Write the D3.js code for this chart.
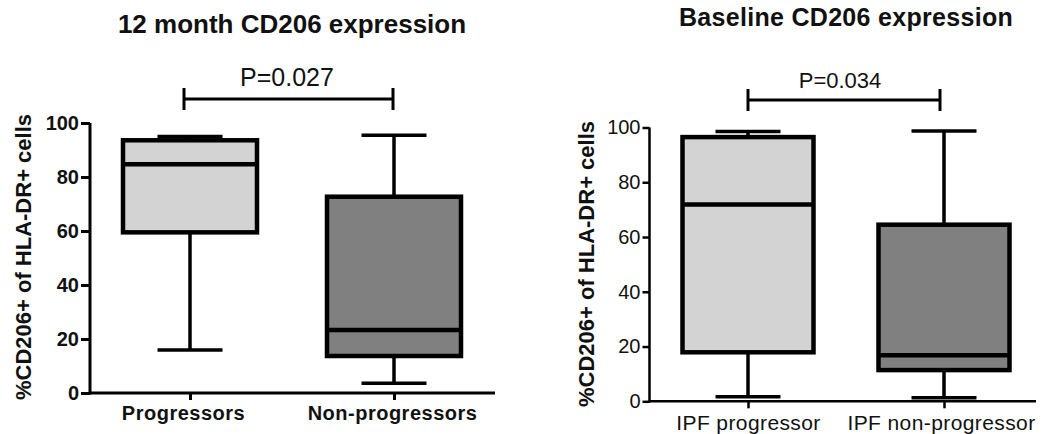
<!DOCTYPE html>
<html>
<head>
<meta charset="utf-8">
<script src="https://cdn.jsdelivr.net/npm/d3@7"></script>
<style>
  html, body { margin: 0; padding: 0; background: #fff; }
  svg { display: block; font-family: Arial, "Liberation Sans", sans-serif; }
</style>
</head>
<body>
<svg id="chart" width="1046" height="434"></svg>
<script>
// Box-plot summaries: [min, Q1, median, Q3, max] in % CD206+ of HLA-DR+ cells
const monthCategories = ["Progressors", "Non-progressors"];
const monthStats = [
  [15.9, 59.5, 84.7, 93.6, 95.0],
  [3.6, 13.7, 23.3, 72.7, 95.5]
];
const monthPValue = "P=0.027";
const monthTitle = "12 month CD206 expression";

const baseCategories = ["IPF progressor", "IPF non-progressor"];
const baseStats = [
  [1.7, 17.9, 71.9, 96.5, 98.5],
  [1.3, 11.4, 16.8, 64.5, 98.7]
];
const basePValue = "P=0.034";
const baseTitle = "Baseline CD206 expression";

const yTicks = [0, 20, 40, 60, 80, 100];
const yLabel = "%CD206+ of HLA-DR+ cells";
const boxFills = ["#d3d3d3", "#808080"];

const svg = d3.select("#chart");

function drawPanel(cfg) {
  const g = svg.append("g");
  const y = d3.scaleLinear().domain([0, 100]).range([cfg.y0, cfg.y100]);
  const x = d3.scalePoint().domain(cfg.categories).range(cfg.xCenters);

  // title
  g.append("text")
    .attr("x", cfg.titleX).attr("y", cfg.titleY)
    .attr("text-anchor", "middle")
    .attr("font-size", cfg.titleSize).attr("font-weight", "bold")
    .attr("letter-spacing", cfg.titleSpacing)
    .attr("fill", "#111")
    .text(cfg.title);

  // y axis
  const yAxis = g.append("g")
    .attr("transform", `translate(${cfg.axisX},0)`)
    .call(d3.axisLeft(y).tickValues(yTicks).tickSize(cfg.yTickSize)
      .tickSizeOuter(0).tickPadding(cfg.yTickPad));
  yAxis.selectAll("path, line").attr("stroke", "#000").attr("stroke-width", cfg.axisWidth);
  yAxis.select(".domain").attr("d", `M0,${cfg.y0 + cfg.axisWidth / 2}V${cfg.y100}`);
  yAxis.selectAll("text")
    .attr("font-size", cfg.yTickFont).attr("font-weight", cfg.tickWeight)
    .attr("font-family", "Arial, 'Liberation Sans', sans-serif")
    .attr("fill", "#111");

  // x axis
  const xAxis = g.append("g")
    .attr("transform", `translate(0,${cfg.y0})`)
    .call(d3.axisBottom(x).tickSize(cfg.xTickSize).tickSizeOuter(0).tickPadding(cfg.xTickPad));
  xAxis.selectAll("path, line").attr("stroke", "#000").attr("stroke-width", cfg.axisWidth);
  xAxis.select(".domain").attr("d", `M${cfg.axisX},0H${cfg.axisRight}`);
  xAxis.selectAll("text")
    .attr("dx", (d, i) => cfg.xLabelShift[i])
    .attr("font-size", cfg.xTickFont).attr("font-weight", cfg.tickWeight)
    .attr("font-family", "Arial, 'Liberation Sans', sans-serif")
    .attr("letter-spacing", cfg.xLetterSpacing)
    .attr("fill", "#111");

  // y axis title
  g.append("text")
    .attr("transform", `translate(${cfg.yLabelX},${cfg.yLabelY}) rotate(-90)`)
    .attr("text-anchor", "middle").attr("dy", "0.35em")
    .attr("font-size", cfg.yLabelSize).attr("font-weight", "bold")
    .attr("fill", "#111")
    .text(yLabel);

  // boxes with whiskers
  const boxes = g.selectAll(".box").data(cfg.stats).join("g").attr("class", "box");
  boxes.each(function (s, i) {
    const cx = x(cfg.categories[i]);
    const b = d3.select(this);
    const [mn, q1, med, q3, mx] = s;
    b.append("line").attr("x1", cx).attr("x2", cx).attr("y1", y(q3)).attr("y2", y(mx))
      .attr("stroke", "#000").attr("stroke-width", cfg.whiskerWidth);
    b.append("line").attr("x1", cx).attr("x2", cx).attr("y1", y(q1)).attr("y2", y(mn))
      .attr("stroke", "#000").attr("stroke-width", cfg.whiskerWidth);
    [mn, mx].forEach(v => {
      b.append("line").attr("x1", cx - cfg.capW / 2).attr("x2", cx + cfg.capW / 2)
        .attr("y1", y(v)).attr("y2", y(v))
        .attr("stroke", "#000").attr("stroke-width", cfg.whiskerWidth);
    });
    b.append("rect")
      .attr("x", cx - cfg.boxW / 2).attr("width", cfg.boxW)
      .attr("y", y(q3)).attr("height", y(q1) - y(q3))
      .attr("fill", boxFills[i]).attr("stroke", "#000").attr("stroke-width", cfg.boxStroke);
    b.append("line").attr("x1", cx - cfg.boxW / 2).attr("x2", cx + cfg.boxW / 2)
      .attr("y1", y(med)).attr("y2", y(med))
      .attr("stroke", "#000").attr("stroke-width", cfg.boxStroke);
  });

  // significance bracket
  const bx1 = x(cfg.categories[0]) + cfg.bracketShift[0];
  const bx2 = x(cfg.categories[1]) + cfg.bracketShift[1];
  const br = g.append("g").attr("stroke", "#000").attr("stroke-width", 3);
  br.append("line").attr("x1", bx1).attr("x2", bx2).attr("y1", cfg.bracketY).attr("y2", cfg.bracketY);
  [bx1, bx2].forEach(bx => {
    br.append("line").attr("x1", bx).attr("x2", bx)
      .attr("y1", cfg.bracketY - cfg.bracketH).attr("y2", cfg.bracketY + cfg.bracketH);
  });
  g.append("text")
    .attr("x", cfg.pX).attr("y", cfg.pY)
    .attr("text-anchor", "middle")
    .attr("font-size", cfg.pSize).attr("fill", "#111")
    .text(cfg.pValue);
}

drawPanel({
  title: monthTitle, titleX: 292, titleY: 33, titleSize: 26, titleSpacing: 0,
  categories: monthCategories, stats: monthStats, pValue: monthPValue,
  y0: 393, y100: 123, axisX: 90, axisRight: 495, xCenters: [190, 394],
  axisWidth: 3, yTickSize: 9, yTickPad: 2, yTickFont: 20, tickWeight: "bold",
  xTickSize: 7, xTickPad: 6, xTickFont: 20, xLetterSpacing: 0.5, xLabelShift: [-7, -2],
  yLabelX: 23, yLabelY: 257, yLabelSize: 22,
  boxW: 134, capW: 65, boxStroke: 4.5, whiskerWidth: 3.5,
  bracketShift: [-6, -1], bracketY: 99, bracketH: 11,
  pX: 287, pY: 86, pSize: 25
});

drawPanel({
  title: baseTitle, titleX: 846, titleY: 26, titleSize: 25, titleSpacing: 0.3,
  categories: baseCategories, stats: baseStats, pValue: basePValue,
  y0: 401.3, y100: 127.5, axisX: 649.5, axisRight: 1036, xCenters: [748, 944],
  axisWidth: 2.5, yTickSize: 7, yTickPad: 2, yTickFont: 20, tickWeight: "normal",
  xTickSize: 7, xTickPad: 7, xTickFont: 21, xLetterSpacing: 0.4, xLabelShift: [0, -3],
  yLabelX: 586, yLabelY: 264, yLabelSize: 22,
  boxW: 131, capW: 65, boxStroke: 4.5, whiskerWidth: 3.5,
  bracketShift: [0, -4], bracketY: 100, bracketH: 11,
  pX: 840, pY: 88, pSize: 22
});
</script>
</body>
</html>
